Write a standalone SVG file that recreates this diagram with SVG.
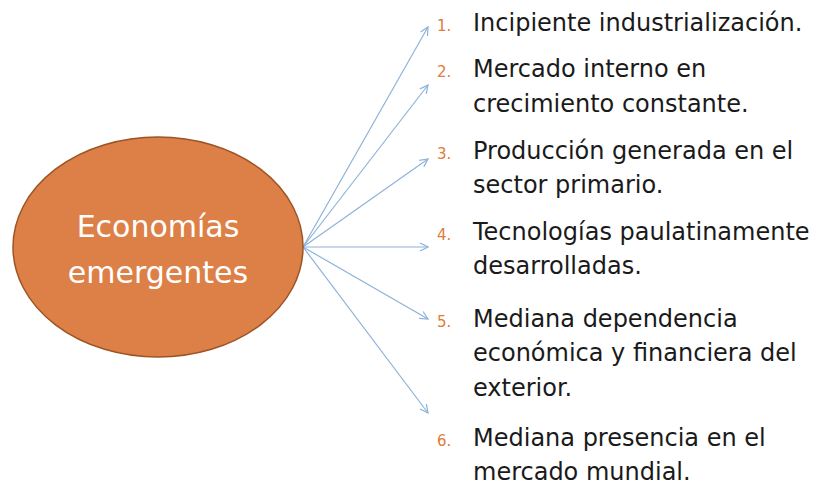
<svg xmlns="http://www.w3.org/2000/svg" width="817" height="486" viewBox="0 0 817 486">
<style>
.item{font-family:"DejaVu Sans","Liberation Sans",sans-serif;font-size:24px;fill:#1a1a1a}
.num{font-family:"DejaVu Sans","Liberation Sans",sans-serif;font-size:15px;fill:#E07B39}
.conn{stroke:#8DB3D9;stroke-width:1.2;fill:none;marker-end:url(#arr)}
.center{font-family:"DejaVu Sans","Liberation Sans",sans-serif;font-size:30px;fill:#ffffff;text-anchor:middle}
</style>
<defs>
<marker id="arr" viewBox="0 0 10 10" refX="9" refY="5" markerWidth="10" markerHeight="10" markerUnits="userSpaceOnUse" orient="auto">
<path d="M1,1 L9,5 L1,9" fill="none" stroke="#8DB3D9" stroke-width="1.2"/>
</marker>
</defs>
<rect width="817" height="486" fill="#ffffff"/>
<g id="connectors">
<line class="conn" x1="303" y1="247" x2="428" y2="27"/>
<line class="conn" x1="303" y1="247" x2="428" y2="85"/>
<line class="conn" x1="303" y1="247" x2="428" y2="159"/>
<line class="conn" x1="303" y1="247" x2="428" y2="247"/>
<line class="conn" x1="303" y1="247" x2="428" y2="319"/>
<line class="conn" x1="303" y1="247" x2="428" y2="413"/>
</g>
<g id="node-center">
<ellipse cx="158" cy="247" rx="145" ry="110" fill="#DD8047" stroke="#9C5424" stroke-width="1.5"/>
<text class="center" x="158" y="237">Economías</text>
<text class="center" x="158" y="283">emergentes</text>
</g>
<g id="item-1">
<text class="num" x="437" y="31">1.</text>
<text class="item" x="473" y="31">Incipiente industrialización.</text>
</g>
<g id="item-2">
<text class="num" x="437" y="77">2.</text>
<text class="item" x="473" y="77">Mercado interno en</text>
<text class="item" x="473" y="112">crecimiento constante.</text>
</g>
<g id="item-3">
<text class="num" x="437" y="159">3.</text>
<text class="item" x="473" y="159">Producción generada en el</text>
<text class="item" x="473" y="193">sector primario.</text>
</g>
<g id="item-4">
<text class="num" x="437" y="240">4.</text>
<text class="item" x="473" y="240">Tecnologías paulatinamente</text>
<text class="item" x="473" y="274">desarrolladas.</text>
</g>
<g id="item-5">
<text class="num" x="437" y="327">5.</text>
<text class="item" x="473" y="327">Mediana dependencia</text>
<text class="item" x="473" y="361">económica y financiera del</text>
<text class="item" x="473" y="396">exterior.</text>
</g>
<g id="item-6">
<text class="num" x="437" y="446">6.</text>
<text class="item" x="473" y="446">Mediana presencia en el</text>
<text class="item" x="473" y="480">mercado mundial.</text>
</g>
</svg>
